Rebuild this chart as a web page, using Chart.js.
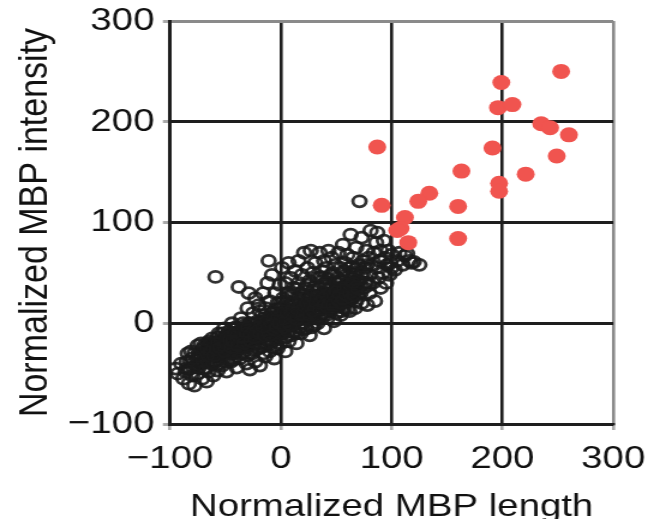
<!DOCTYPE html>
<html>
<head>
<meta charset="utf-8">
<script src="https://cdn.jsdelivr.net/npm/chart.js@4/dist/chart.umd.min.js"></script>
<style>
  html, body { margin: 0; padding: 0; background: #fff; overflow: hidden; }
  /* the reference is stretched sideways by about 1.2 */
  #myScatter { display: block; transform: scaleX(1.2); transform-origin: 0 0; }
</style>
</head>
<body>
<canvas id="myScatter" width="546" height="519" style="width:546px;height:519px"></canvas>
<script>
    const xTicks = [-100, 0, 100, 200, 300];
    const yTicks = [-100, 0, 100, 200, 300];

    // red points (filled)
    const redX = [253,199,196,209,235,243,260,249,87,191,163,221,197,197,134,124,91,160,112,108,115,160,105];
    const redY = [250,239,214,217,198,194,187,166,175,174,151,148,139,131,129,121,117,116,105,94,80,84,92];

    // open circles, outer part of the cloud, [x, y]
    const openPts = [
      [-95,-45],[-93,-50],[-90,-40],
      [-88,-55],[-86,-48],[-85,-38],[-83,-60],[-82,-45],[-80,-52],[-80,-35],[-78,-62],[-77,-42],
      [-75,-50],[-74,-30],[-72,-40],[-71,-55],[-70,-25],[-69,-45],[-68,-35],[-67,-58],[-66,-20],[-65,-48],[-64,-30],[-63,-40],
      [-62,-15],[-61,-52],[-60,-28],[-59,-38],[-58,-22],[-57,-47],[-56,-10],[-55,-33],[-54,-18],[-53,-42],[-52,-25],[-51,-5],[-50,-35],[-50,-15],
      [-59,46],
      [-49,-48],[-48,-28],[-47,-8],[-46,-20],[-45,-38],[-44,0],[-43,-14],[-42,-30],[-41,-22],[-40,-5],[-40,-44],[-39,-12],[-38,36],[-38,-25],
      [-37,-35],[-36,5],[-35,-18],[-34,-8],[-33,-28],[-32,-2],[-31,-40],[-31,-12],[-30,15],[-30,-22],[-29,30],[-28,-46],[-28,0],[-27,-15],
      [-26,-30],[-25,10],[-25,-5],[-24,-20],[-23,25],[-23,-38],[-22,-10],[-21,2],[-20,-25],[-20,18],[-19,-42],[-19,-3],
      [-18,-15],[-17,8],[-16,-30],[-16,30],[-15,-5],[-14,-33],[-14,15],[-13,-20],[-12,0],[-12,40],[-11,62],[-11,-10],[-10,22],[-10,-28],
      [-9,5],[-8,-18],[-8,48],[-7,-5],[-6,12],[-6,-35],[-5,30],[-5,-12],[-4,0],[-3,20],[-3,-25],[-2,8],[-1,-8],[-1,38],[0,-20],[0,15],[0,2],
      [1,55],[2,-10],[2,25],[3,5],[4,-28],[4,40],[5,12],[6,-5],[6,30],[7,-18],[7,60],[8,18],[9,0],[9,45],[10,-12],[10,28],
      [11,8],[12,35],[12,-8],[13,52],[13,18],[14,-20],[15,25],[15,3],[16,62],[16,40],[17,10],[18,-10],[18,30],[19,48],[20,18],[20,0],
      [21,70],[22,35],[22,8],[23,-5],[24,25],[24,55],[25,15],[26,42],[26,-12],[27,72],[27,28],[28,5],[29,50],[29,20],[30,36],[30,-2],
      [31,60],[32,12],[32,28],[33,45],[33,0],[34,22],[35,70],[35,35],[36,8],[37,52],[37,18],[38,30],[39,62],[39,-5],[40,40],[40,15],
      [41,55],[42,25],[42,5],[43,72],[44,35],[44,12],[45,48],[46,20],[46,65],[47,30],[48,2],[48,42],[49,58],[50,25],[50,10],
      [51,45],[52,70],[52,18],[53,35],[54,55],[54,8],[55,28],[56,78],[56,42],[57,15],[58,60],[58,32],[59,48],[60,22],[60,68],
      [61,38],[62,55],[62,12],[63,88],[64,45],[64,25],[65,65],[66,35],[67,50],[67,15],[68,75],[69,42],[70,58],[70,28],[71,121],
      [72,48],[73,85],[73,20],[74,62],[75,35],[76,55],[77,72],[77,40],[78,18],[79,65],[80,48],[80,30],
      [81,92],[82,58],[83,40],[84,70],[85,22],[86,55],[86,80],[87,90],[88,45],[89,62],[90,35],[90,72],
      [92,50],[93,82],[94,65],[95,40],[96,58],[97,72],[98,48],[99,60],[100,55],[100,68],
      [103,53],[105,62],[107,70],[110,58],[112,67],[114,69],[116,62],[118,60],[120,61],[125,58]
    ];

    // open circles, dense core of the cloud
    const corePts = [
      [-85,-45],[-84,-30],[-82,-38],[-81,-28],[-79,-44],[-78,-30],[-76,-36],[-75,-22],[-74,-44],
      [-73,-33],[-72,-20],[-70,-38],[-69,-28],[-68,-46],[-67,-30],[-66,-38],[-65,-18],
      [-64,-22],[-63,-34],[-62,-26],[-61,-40],[-60,-20],[-59,-30],[-58,-32],[-57,-14],[-56,-26],
      [-55,-40],[-54,-28],[-53,-10],[-52,-34],[-51,-20],[-50,-26],[-49,-12],[-48,-38],[-47,-22],
      [-46,-30],[-45,-10],[-44,-24],[-43,-36],[-42,-16],[-41,-4],[-40,-28],[-39,-20],[-38,-8],
      [-37,-22],[-36,-12],[-35,-30],[-34,0],[-33,-18],[-32,-24],[-31,-4],[-30,-32],[-29,-16],
      [-28,-22],[-27,-6],[-26,-14],[-25,-26],[-24,-2],[-23,-12],[-22,-20],[-21,-14],[-20,-6],
      [-19,12],[-18,-24],[-17,-8],[-16,-14],[-15,5],[-14,-22],[-13,-8],[-12,-16],[-11,6],
      [-10,-6],[-9,-20],[-8,10],[-7,-12],[-6,2],[-5,-22],[-4,14],[-3,-6],[-2,-16],
      [-1,20],[0,-10],[1,8],[2,-2],[3,16],[4,-14],[5,22],[6,2],[7,-8],[8,8],[9,30],[10,-2],
      [11,20],[12,2],[13,-10],[14,12],[15,34],[16,-4],[17,22],[18,4],[19,12],[20,28],[21,-6],[22,20],
      [23,10],[24,38],[25,4],[26,24],[27,14],[28,-4],[29,32],[30,8],[31,20],[32,38],[33,12],[34,4],
      [35,24],[36,46],[37,10],[38,16],[39,38],[40,26],[41,8],[42,44],[43,20],[44,28],[45,14],[46,36],
      [47,50],[48,22],[49,32],[50,40],[51,16],[52,30],[53,22],[54,42],[55,12],[56,32],[57,52],[58,20],
      [59,38],[60,14],[61,28],[62,42],[63,24],[64,56],[65,30],[66,48],[67,38],[68,22],[69,55],[70,42],
      [72,30],[74,50],[76,40],[78,58],[80,38],
      // centre of the band, where it reads solid black
      [-70,-30],[-69,-22],[-67,-24],[-66,-32],[-64,-28],[-63,-20],[-61,-24],[-60,-32],[-58,-26],[-57,-20],
      [-55,-24],[-54,-16],[-52,-22],[-51,-28],[-49,-20],[-48,-14],[-46,-16],[-45,-24],[-43,-18],[-42,-10],
      [-40,-14],[-39,-22],[-37,-14],[-36,-6],[-34,-14],[-33,-20],[-31,-10],[-30,-4],[-28,-12],[-27,-18],
      [-25,-8],[-24,-14],[-22,-4],[-21,-8],[-19,-10],[-18,0],[-16,-4],[-15,-12],[-13,2],[-12,-6],
      [-10,-12],[-9,0],[-7,4],[-6,-6],[-4,-4],[-3,6],[-1,0],[0,8],[2,10],[3,-4],
      [5,2],[6,10],[8,-2],[9,12],[11,14],[12,6],[14,4],[15,14],[17,16],[18,8],
      [20,8],[21,18],[23,20],[24,10],[26,8],[27,20],[29,12],[30,22],[32,20],[33,26],
      [35,14],[36,24],[38,24],[39,18],[41,28],[42,16],[44,20],[45,30],[47,18],[48,28],
      [50,32],[51,24],[53,28],[54,20],[56,24],[57,34],[59,28],[60,36],[62,30],[63,38],
      [65,40],[66,28],[68,36],[70,34]
    ];

    const data = {
      datasets: [{
        data: redX.map((x, i) => ({x: x, y: redY[i]})),
        backgroundColor: 'rgb(240,84,79)',
        borderWidth: 0,
        pointRadius: 7.5,
        order: 0
      },
      {
        data: openPts.concat(corePts).map(p => ({x: p[0], y: p[1]})),
        backgroundColor: 'rgba(0,0,0,0)',
        borderColor: 'rgba(28,28,28,0.9)',
        borderWidth: 2.8,
        pointRadius: 5.5,
        order: 1
      }]
    };

    const tickFont = { family: "'Liberation Sans', Arial, sans-serif", size: 32, lineHeight: 1 };
    const minus = v => String(v).replace('-', '\u2212');
    const gridColor = ctx => ctx.tick && ctx.tick.value === 300 ? '#8a8a8a' : '#1e1e1e';

    // config
    const config = {
      type: 'scatter',
      data: data,
      options: {
        responsive: false,
        animation: false,
        layout: { padding: { top: 21, right: 35, left: 0, bottom: 0 } },
        plugins: { legend: { display: false }, tooltip: { enabled: false } },
        scales: {
          x: {
            min: -100, max: 300,
            afterBuildTicks: s => { s.ticks = xTicks.map(v => ({value: v})); },
            afterFit: s => { s.height = 95; s.paddingLeft = 0; s.paddingRight = 0; },
            ticks: { font: tickFont, color: '#111', padding: 13, maxRotation: 0, callback: minus },
            grid: { color: gridColor, lineWidth: 2.6, tickColor: '#aaa', tickLength: 6 },
            border: { color: '#1e1e1e', width: 2.6 },
            title: {
              display: true, text: 'Normalized MBP length', color: '#111',
              font: { family: "'Liberation Sans', Arial, sans-serif", size: 32, lineHeight: 0.75 },
              padding: { top: 0, bottom: 0 }
            }
          },
          y: {
            min: -100, max: 300,
            afterBuildTicks: s => { s.ticks = yTicks.map(v => ({value: v})); },
            afterFit: s => { s.width = 141.7; s.paddingTop = 0; s.paddingBottom = 0; },
            ticks: { font: tickFont, color: '#111', padding: 7, callback: minus },
            grid: { color: gridColor, lineWidth: 3, tickColor: '#aaa', tickLength: 6 },
            border: { color: '#1e1e1e', width: 3 },
            title: {
              display: true, text: 'Normalized MBP intensity', color: '#111',
              font: { family: "'Liberation Sans', Arial, sans-serif", size: 34, lineHeight: 1 },
              padding: { top: 13, bottom: 0 }
            }
          }
        }
      }
    };

    // render init block
    const myScatter = new Chart(
      document.getElementById('myScatter'),
      config
    );
</script>
</body>
</html>
